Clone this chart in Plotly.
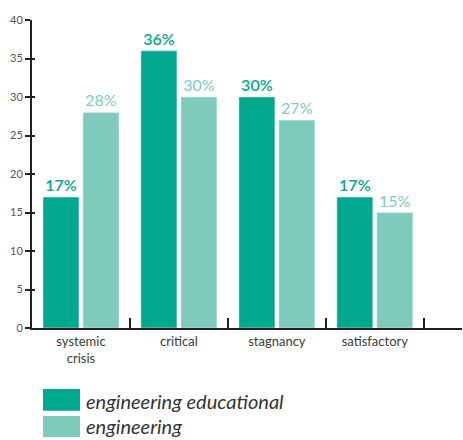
import plotly.graph_objects as go

categories = ["systemic<br>crisis", "critical", "stagnancy", "satisfactory"]
edu_values = [17, 36, 30, 17]
eng_values = [28, 30, 27, 15]
series_names = ["engineering educational", "engineering"]
y_ticks = [0, 5, 10, 15, 20, 25, 30, 35, 40]

DARK = "#00A88E"
LIGHT = "#7ECBBE"
FONT = "Lato"

x_idx = list(range(len(categories)))
boundaries = [i + 0.5 for i in x_idx]
X_RANGE = [-0.5, 3.89]

fig = go.Figure()
fig.add_trace(go.Bar(
    x=x_idx, y=edu_values, name=series_names[0], marker_color=DARK,
    texttemplate="%{y}%", textposition="outside", cliponaxis=False,
    textfont=dict(color=DARK, size=16, family=FONT, weight=600),
))
fig.add_trace(go.Bar(
    x=x_idx, y=eng_values, name=series_names[1], marker_color=LIGHT,
    texttemplate="%{y}%", textposition="outside", cliponaxis=False,
    textfont=dict(color=LIGHT, size=16, family=FONT),
))
# empty helper trace so the overlay axes (extra tick marks) are drawn
fig.add_trace(go.Scatter(x=[None], y=[None], xaxis="x2", yaxis="y2",
                         mode="markers", showlegend=False, hoverinfo="skip"))

fig.update_layout(
    width=463, height=440,
    margin=dict(l=32, r=1, t=20, b=112),
    paper_bgcolor="white", plot_bgcolor="white",
    barmode="group", bargap=0.184, bargroupgap=0.1,
    showlegend=False,
    font=dict(family=FONT, color="#333333"),
    xaxis=dict(
        range=X_RANGE, tickvals=x_idx, ticktext=categories,
        ticks="", showline=True, linecolor="#231f20", linewidth=2,
        showgrid=False, zeroline=False, automargin=False,
        tickfont=dict(size=13, color="#3a3a3a", family=FONT),
    ),
    xaxis2=dict(
        overlaying="x", anchor="y2", side="bottom", range=X_RANGE,
        tickvals=boundaries, ticks="inside", ticklen=10, tickwidth=2,
        tickcolor="#231f20", showticklabels=False, showline=False,
        showgrid=False, zeroline=False, automargin=False,
    ),
    yaxis=dict(
        range=[0, 40], tickvals=y_ticks, ticks="outside", ticklen=5,
        tickwidth=2, tickcolor="#231f20", showline=True,
        linecolor="#231f20", linewidth=2, showgrid=False, zeroline=False,
        automargin=False,
        tickfont=dict(size=11, color="#555555", family=FONT),
    ),
    yaxis2=dict(
        overlaying="y", anchor="x2", side="left", range=[0, 40],
        tickvals=y_ticks, ticks="inside", ticklen=3, tickwidth=2,
        tickcolor="#231f20", showticklabels=False, showline=False,
        showgrid=False, zeroline=False, automargin=False,
    ),
)

# custom legend
legend_items = [(series_names[0], DARK, -0.198, -0.269, -0.236),
                (series_names[1], LIGHT, -0.286, -0.354, -0.318)]
for name, color, y0, y1, ym in legend_items:
    fig.add_shape(type="rect", xref="paper", yref="paper",
                  x0=0.0256, x1=0.1116, y0=y1, y1=y0,
                  fillcolor=color, line=dict(width=0))
    fig.add_annotation(xref="paper", yref="paper", x=0.121, y=ym,
                       text=name, showarrow=False, xanchor="left",
                       yanchor="middle",
                       font=dict(size=20, color="#333333", family=FONT,
                                 style="italic"))

fig.write_html(
    "out.html",
    config={"displayModeBar": False},
    post_script="document.body.style.margin='0';"
                "document.body.style.overflow='hidden';",
)
